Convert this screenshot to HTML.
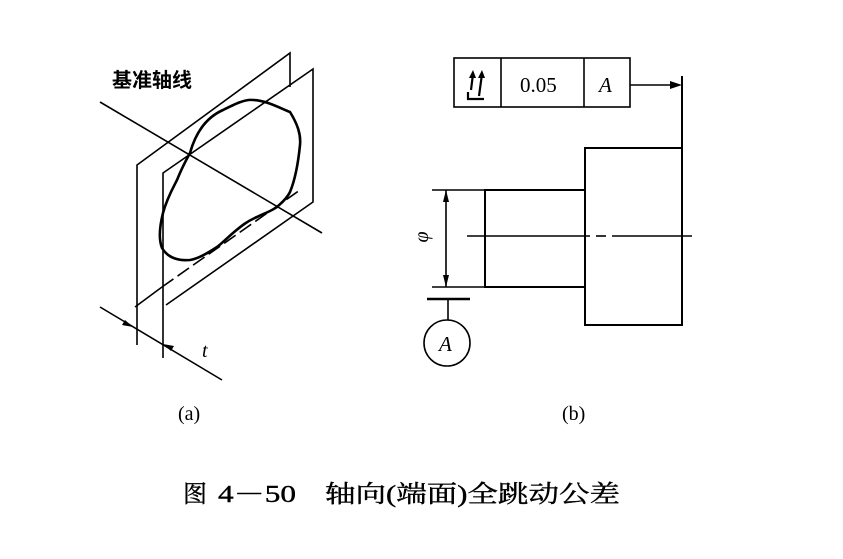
<!DOCTYPE html>
<html><head><meta charset="utf-8"><style>
html,body{margin:0;padding:0;background:#fff;width:843px;height:559px;overflow:hidden}
</style></head><body>
<svg width="843" height="559" viewBox="0 0 843 559" xmlns="http://www.w3.org/2000/svg">
<g stroke="#000" fill="none" stroke-width="1.6">
<line x1="100" y1="102" x2="322" y2="233"/>
<polyline points="137,345 137,165 290,53 290,87"/>
<line x1="135" y1="307" x2="162" y2="287"/>
<line x1="162" y1="287" x2="300" y2="190" stroke-dasharray="14,5"/>
<polyline points="163,358 163,173 313,69 313,202 166,305"/>
<line x1="100" y1="307" x2="222" y2="380"/>
<path d="M133,327 l-11,-2 l3,-5z" fill="#000" stroke="none"/>
<path d="M163,344 l11,2 l-3,5z" fill="#000" stroke="none"/>
<path stroke-width="2.6" d="M190,153 C195,135 205,118 223,110 C235,104 245,99 253,100 C265,100 280,108 290,112 C298,125 301,135 300,145 C298,165 295,180 290,192 C286,200 280,204 277,207 C270,212 262,214 257,217 C245,222 238,229 233,233 C225,240 220,245 217,247 C205,255 197,259 190,260 C178,261 168,258 162,248 C158,238 160,225 163,213 C167,198 174,186 177,180 C181,170 185,162 190,153 Z"/>
<rect x="454" y="58" width="176" height="49"/>
<line x1="501" y1="58" x2="501" y2="107"/>
<line x1="584" y1="58" x2="584" y2="107"/>
<line x1="630" y1="85" x2="672" y2="85"/>
<path d="M682,85 l-12,-4 v8z" fill="#000" stroke="none"/>
<line x1="682" y1="76" x2="682" y2="326" stroke-width="2"/>
<polyline points="682,148 585,148 585,325 682,325" stroke-width="2"/>
<rect x="485" y="190" width="100" height="97" stroke-width="2"/>
<line x1="432" y1="190" x2="485" y2="190"/>
<line x1="432" y1="287" x2="485" y2="287"/>
<line x1="446" y1="190" x2="446" y2="287"/>
<path d="M446,190 l-3,12 h6z M446,287 l-3,-12 h6z" fill="#000" stroke="none"/>
<line x1="467" y1="236" x2="590" y2="236"/>
<line x1="596" y1="236" x2="606" y2="236"/>
<line x1="612" y1="236" x2="692" y2="236"/>
<line x1="427" y1="299" x2="470" y2="299" stroke-width="2.4"/>
<line x1="448" y1="299" x2="448" y2="320"/>
<circle cx="447" cy="343" r="23"/>
<path d="M468,92 L468,99 L484,99" stroke-width="2.2"/>
<path d="M471,90 L473,74 M479,96 L482,74" stroke-width="2.2"/>
<path d="M473,70 l-4,8 h7z M482,70 l-4,8 h7z" fill="#000" stroke="none"/>
</g>
<g font-family="Liberation Serif, serif" fill="#000">
<text x="112" y="87" font-family="Liberation Sans, 'Noto Sans CJK SC', sans-serif" font-weight="bold" font-size="20">基准轴线</text>
<text x="202" y="357" font-size="20" font-style="italic">t</text>
<text x="520" y="92" font-size="21">0.05</text>
<text x="599" y="92" font-size="21" font-style="italic">A</text>
<text x="439" y="351" font-size="21" font-style="italic">A</text>
<text transform="translate(428,237) rotate(-90)" font-size="20" text-anchor="middle" font-style="italic">φ</text>
<text x="178" y="420" font-size="20">(a)</text>
<text x="562" y="420" font-size="20">(b)</text>
<g font-size="24" font-family="Liberation Serif, 'Noto Serif CJK SC', serif" stroke="#000" stroke-width="0.4">
<text x="183" y="502">图</text>
<text x="218" y="502" textLength="78" lengthAdjust="spacingAndGlyphs">4－50</text>
<text x="325" y="502" textLength="295" lengthAdjust="spacingAndGlyphs">轴向(端面)全跳动公差</text>
</g>
</g>
</svg>
</body></html>
